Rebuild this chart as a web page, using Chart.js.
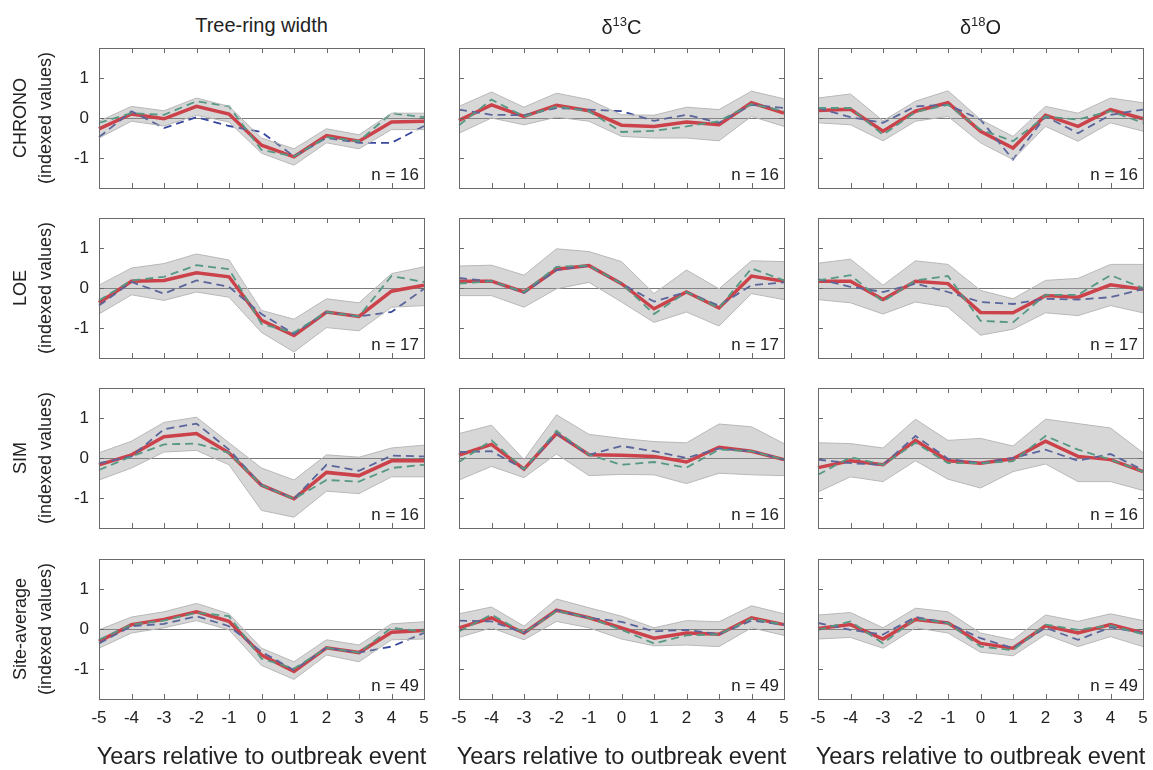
<!DOCTYPE html>
<html>
<head>
<meta charset="utf-8">
<script src="https://cdn.jsdelivr.net/npm/chart.js"></script>
<style>
  body { margin: 0; background: #fff; font-family: "Liberation Sans", Arial, sans-serif; color: #222; }
  #wrap { position: relative; width: 1153px; height: 770px; overflow: hidden; }
  canvas { position: absolute; }
  .ctitle { position: absolute; top: 14px; width: 325px; text-align: center; font-size: 20px; }
  .xtitle { position: absolute; top: 743px; width: 400px; text-align: center; font-size: 23.5px; }
  .ylab { position: absolute; width: 150px; text-align: center; font-size: 18px; transform: rotate(-90deg); transform-origin: center center; line-height: 25px; }
  .nlab { position: absolute; font-size: 17px; text-align: right; width: 80px; }
  sup { font-size: 13px; }
</style>
</head>
<body>
<div id="wrap"></div>
<script>
// years relative to the outbreak event
var years = ['-5', '-4', '-3', '-2', '-1', '0', '1', '2', '3', '4', '5'];
var colTitles = ['Tree-ring width', '&delta;<sup>13</sup>C', '&delta;<sup>18</sup>O'];
var rowNames = ['CHRONO', 'LOE', 'SIM', 'Site-average'];
var rowN = [16, 17, 16, 49];

// CHRONO
var trwChronoMean = [-0.27, 0.1, -0.02, 0.29, 0.1, -0.68, -0.97, -0.44, -0.58, -0.1, -0.08];
var trwChronoUp = [-0.08, 0.29, 0.18, 0.5, 0.29, -0.5, -0.77, -0.27, -0.42, 0.12, 0.12];
var trwChronoLo = [-0.5, -0.08, -0.2, 0.07, -0.1, -0.88, -1.18, -0.62, -0.77, -0.29, -0.29];
var trwChronoG = [-0.12, 0.12, 0.08, 0.42, 0.29, -0.8, -0.96, -0.48, -0.58, 0.12, 0.02];
var trwChronoB = [-0.48, 0.17, -0.25, 0.02, -0.2, -0.35, -0.96, -0.5, -0.62, -0.62, -0.2];

var c13ChronoMean = [-0.06, 0.33, 0.04, 0.32, 0.18, -0.18, -0.21, -0.1, -0.17, 0.38, 0.12];
var c13ChronoUp = [0.29, 0.65, 0.27, 0.62, 0.46, 0.08, 0.07, 0.27, 0.21, 0.67, 0.48];
var c13ChronoLo = [-0.38, 0, -0.17, 0.02, -0.08, -0.46, -0.5, -0.5, -0.57, 0.04, -0.21];
var c13ChronoG = [-0.18, 0.46, 0.04, 0.29, 0.17, -0.35, -0.32, -0.21, -0.08, 0.35, 0.17];
var c13ChronoB = [0.21, 0.08, 0.07, 0.25, 0.21, 0.17, -0.07, 0.08, -0.12, 0.33, 0.25];

var o18ChronoMean = [0.19, 0.22, -0.33, 0.17, 0.38, -0.33, -0.75, 0.07, -0.21, 0.21, -0.02];
var o18ChronoUp = [0.5, 0.6, -0.07, 0.42, 0.68, -0.04, -0.46, 0.29, 0.12, 0.5, 0.38];
var o18ChronoLo = [-0.12, -0.17, -0.57, -0.08, 0.04, -0.62, -1.04, -0.21, -0.58, -0.12, -0.33];
var o18ChronoG = [0.25, 0.25, -0.42, 0.15, 0.33, -0.29, -0.58, 0.04, -0.04, 0.17, -0.12];
var o18ChronoB = [0.25, 0.02, -0.12, 0.29, 0.33, -0.04, -1.04, 0.04, -0.38, 0.08, 0.21];

// LOE
var trwLoeMean = [-0.37, 0.17, 0.19, 0.38, 0.28, -0.81, -1.19, -0.6, -0.71, -0.08, 0.07];
var trwLoeUp = [0.07, 0.5, 0.61, 0.85, 0.7, -0.56, -0.78, -0.27, -0.37, 0.36, 0.53];
var trwLoeLo = [-0.65, -0.17, -0.31, -0.1, -0.23, -1.11, -1.6, -0.99, -1.07, -0.48, -0.44];
var trwLoeG = [-0.31, 0.19, 0.28, 0.57, 0.47, -0.9, -1.11, -0.6, -0.71, 0.3, 0.15];
var trwLoeB = [-0.44, 0.15, -0.14, 0.19, 0.03, -0.65, -1.15, -0.6, -0.71, -0.6, -0.02];

var c13LoeMean = [0.17, 0.17, -0.1, 0.47, 0.56, 0.11, -0.52, -0.1, -0.5, 0.3, 0.17];
var c13LoeUp = [0.55, 0.57, 0.32, 0.98, 0.91, 0.66, -0.14, 0.45, -0.02, 0.68, 0.66];
var c13LoeLo = [-0.19, -0.19, -0.48, -0.02, 0.14, -0.35, -0.86, -0.6, -0.95, -0.14, -0.29];
var c13LoeG = [0.11, 0.17, -0.1, 0.53, 0.56, 0.11, -0.65, -0.1, -0.5, 0.49, 0.19];
var c13LoeB = [0.25, 0.17, -0.12, 0.45, 0.56, 0.11, -0.34, -0.1, -0.44, 0.07, 0.14];

var o18LoeMean = [0.17, 0.17, -0.29, 0.17, 0.11, -0.61, -0.62, -0.19, -0.23, 0.08, -0.03];
var o18LoeUp = [0.62, 0.72, 0.07, 0.68, 0.59, -0.06, -0.27, 0.19, 0.24, 0.59, 0.59];
var o18LoeLo = [-0.29, -0.37, -0.65, -0.35, -0.48, -1.18, -1.03, -0.62, -0.69, -0.44, -0.62];
var o18LoeG = [0.19, 0.32, -0.34, 0.19, 0.3, -0.82, -0.86, -0.17, -0.17, 0.32, 0];
var o18LoeB = [0.22, 0.03, -0.1, 0.11, -0.1, -0.35, -0.4, -0.27, -0.29, -0.23, -0.03];

// SIM
var trwSimMean = [-0.17, 0.08, 0.53, 0.61, 0.13, -0.68, -1.02, -0.36, -0.44, -0.07, -0.07];
var trwSimUp = [0.13, 0.42, 0.89, 1.02, 0.38, -0.25, -0.55, 0.08, 0.02, 0.25, 0.32];
var trwSimLo = [-0.55, -0.25, 0.15, 0.19, -0.17, -1.31, -1.48, -0.83, -0.89, -0.47, -0.47];
var trwSimG = [-0.3, 0.04, 0.34, 0.36, 0.13, -0.68, -1.02, -0.55, -0.59, -0.25, -0.17];
var trwSimB = [-0.13, 0.04, 0.72, 0.86, 0.21, -0.68, -1.02, -0.17, -0.32, 0.06, 0.04];

var c13SimMean = [0.07, 0.34, -0.28, 0.61, 0.08, 0.07, 0.04, -0.1, 0.27, 0.17, -0.04];
var c13SimUp = [0.61, 0.82, -0.04, 1.08, 0.59, 0.49, 0.41, 0.38, 0.85, 0.78, 0.36];
var c13SimLo = [-0.55, -0.21, -0.49, 0.1, -0.44, -0.41, -0.42, -0.64, -0.38, -0.42, -0.44];
var c13SimG = [-0.1, 0.44, -0.28, 0.68, 0.08, -0.17, -0.1, -0.24, 0.21, 0.17, -0.04];
var c13SimB = [0.15, 0.17, -0.28, 0.61, 0.08, 0.3, 0.17, 0, 0.24, 0.17, -0.04];

var o18SimMean = [-0.24, -0.07, -0.17, 0.44, -0.07, -0.13, -0.02, 0.42, 0.04, -0.04, -0.34];
var o18SimUp = [0.38, 0.36, 0.25, 0.97, 0.44, 0.49, 0.3, 0.97, 0.86, 0.75, 0.13];
var o18SimLo = [-0.85, -0.47, -0.59, -0.07, -0.53, -0.75, -0.34, -0.15, -0.59, -0.59, -0.81];
var o18SimG = [-0.42, 0.02, -0.17, 0.38, -0.13, -0.13, -0.08, 0.55, 0.21, -0.04, -0.34];
var o18SimB = [-0.04, -0.13, -0.17, 0.55, -0.02, -0.13, 0, 0.21, -0.07, 0.1, -0.3];

// Site-average
var trwSiteMean = [-0.31, 0.11, 0.24, 0.43, 0.19, -0.65, -1.06, -0.47, -0.59, -0.08, -0.04];
var trwSiteUp = [-0.02, 0.3, 0.43, 0.64, 0.38, -0.48, -0.82, -0.27, -0.4, 0.13, 0.18];
var trwSiteLo = [-0.48, -0.1, 0.03, 0.21, -0.02, -0.91, -1.26, -0.65, -0.82, -0.27, -0.25];
var trwSiteG = [-0.27, 0.11, 0.21, 0.41, 0.32, -0.74, -0.99, -0.47, -0.59, 0.03, -0.06];
var trwSiteB = [-0.36, 0.07, 0.13, 0.32, 0.07, -0.57, -1.03, -0.47, -0.59, -0.44, -0.1];

var c13SiteMean = [0.03, 0.28, -0.1, 0.47, 0.28, 0.03, -0.23, -0.1, -0.13, 0.28, 0.11];
var c13SiteUp = [0.38, 0.55, 0.07, 0.75, 0.53, 0.32, 0.03, 0.21, 0.18, 0.58, 0.38];
var c13SiteLo = [-0.21, 0.03, -0.27, 0.19, 0.03, -0.25, -0.42, -0.4, -0.44, 0.03, -0.16];
var c13SiteG = [-0.06, 0.36, -0.1, 0.45, 0.28, -0.02, -0.36, -0.16, -0.13, 0.26, 0.11];
var c13SiteB = [0.21, 0.19, -0.1, 0.47, 0.28, 0.18, -0.06, -0.02, -0.13, 0.21, 0.11];

var o18SiteMean = [0.01, 0.11, -0.25, 0.24, 0.15, -0.36, -0.48, 0.08, -0.1, 0.11, -0.1];
var o18SiteUp = [0.35, 0.41, 0.03, 0.52, 0.43, -0.1, -0.27, 0.35, 0.19, 0.38, 0.21];
var o18SiteLo = [-0.25, -0.21, -0.48, 0.03, -0.1, -0.58, -0.67, -0.14, -0.44, -0.19, -0.44];
var o18SiteG = [-0.02, 0.19, -0.36, 0.26, 0.15, -0.44, -0.53, 0.11, -0.02, 0.09, -0.13];
var o18SiteB = [0.15, -0.02, -0.14, 0.3, 0.15, -0.23, -0.48, 0.03, -0.27, 0.04, -0.1];

var panels = [
  [[trwChronoMean, trwChronoUp, trwChronoLo, trwChronoG, trwChronoB],
   [c13ChronoMean, c13ChronoUp, c13ChronoLo, c13ChronoG, c13ChronoB],
   [o18ChronoMean, o18ChronoUp, o18ChronoLo, o18ChronoG, o18ChronoB]],
  [[trwLoeMean, trwLoeUp, trwLoeLo, trwLoeG, trwLoeB],
   [c13LoeMean, c13LoeUp, c13LoeLo, c13LoeG, c13LoeB],
   [o18LoeMean, o18LoeUp, o18LoeLo, o18LoeG, o18LoeB]],
  [[trwSimMean, trwSimUp, trwSimLo, trwSimG, trwSimB],
   [c13SimMean, c13SimUp, c13SimLo, c13SimG, c13SimB],
   [o18SimMean, o18SimUp, o18SimLo, o18SimG, o18SimB]],
  [[trwSiteMean, trwSiteUp, trwSiteLo, trwSiteG, trwSiteB],
   [c13SiteMean, c13SiteUp, c13SiteLo, c13SiteG, c13SiteB],
   [o18SiteMean, o18SiteUp, o18SiteLo, o18SiteG, o18SiteB]]
];

var colLeft = [99, 459, 818];
var rowTop = [48, 218, 388, 559];
var plotW = 325, plotH = 140;
var padL = 45, padT = 5, padR = 15, padB = 35;

// frame and inward ticks, matlab style
var framePlugin = {
  id: 'frame',
  afterDraw: function(chart) {
    var ctx = chart.ctx, a = chart.chartArea;
    var xs = chart.scales.x, ys = chart.scales.y;
    ctx.save();
    ctx.strokeStyle = '#6a6a6a';
    ctx.lineWidth = 1;
    ctx.beginPath();
    for (var i = 0; i < years.length; i++) {
      var px = Math.round(xs.getPixelForValue(i)) + 0.5;
      ctx.moveTo(px, a.bottom); ctx.lineTo(px, a.bottom - 5);
      ctx.moveTo(px, a.top); ctx.lineTo(px, a.top + 5);
    }
    [-1, 0, 1].forEach(function(v) {
      var py = Math.round(ys.getPixelForValue(v)) + 0.5;
      ctx.moveTo(a.left, py); ctx.lineTo(a.left + 5, py);
      ctx.moveTo(a.right, py); ctx.lineTo(a.right - 5, py);
    });
    ctx.stroke();
    ctx.strokeRect(Math.round(a.left) + 0.5, Math.round(a.top) + 0.5, Math.round(a.right - a.left), Math.round(a.bottom - a.top));
    ctx.restore();
  }
};

var wrap = document.getElementById('wrap');
var tickFont = { family: 'Liberation Sans', size: 17 };

for (var r = 0; r < 4; r++) {
  for (var c = 0; c < 3; c++) {
    var d = panels[r][c];
    var cv = document.createElement('canvas');
    cv.width = plotW + padL + padR;
    cv.height = plotH + padT + padB;
    cv.style.left = (colLeft[c] - padL) + 'px';
    cv.style.top = (rowTop[r] - padT) + 'px';
    wrap.appendChild(cv);

    new Chart(cv, {
      type: 'line',
      data: {
        labels: years,
        datasets: [
          { data: d[1], borderColor: '#b8b8b8', borderWidth: 1, fill: false },
          { data: d[2], borderColor: '#b8b8b8', borderWidth: 1, fill: '-1', backgroundColor: 'rgba(150,150,150,0.38)' },
          { data: d[3], borderColor: '#2f9a78', borderWidth: 1.8, borderDash: [8, 5], fill: false },
          { data: d[4], borderColor: '#37479e', borderWidth: 1.8, borderDash: [8, 5], fill: false },
          { data: d[0], borderColor: '#ec0f1c', borderWidth: 3.5, fill: false }
        ]
      },
      options: {
        responsive: false,
        animation: false,
        layout: { padding: { left: 0, top: padT, right: padR, bottom: 0 } },
        elements: { point: { radius: 0 }, line: { tension: 0 } },
        plugins: { legend: { display: false }, tooltip: { enabled: false } },
        scales: {
          x: {
            offset: false,
            grid: { display: false, drawTicks: false },
            border: { display: false },
            ticks: { display: r === 3, font: tickFont, color: '#222', padding: 9, maxRotation: 0, autoSkip: false },
            afterFit: function(s) { s.height = padB; s.paddingLeft = 0; s.paddingRight = 0; }
          },
          y: {
            min: -1.75, max: 1.75,
            grid: {
              drawTicks: false,
              color: function(g) { return g.tick && g.tick.value === 0 ? '#7a7a7a' : 'rgba(0,0,0,0)'; }
            },
            border: { display: false },
            ticks: { stepSize: 1, includeBounds: false, display: c === 0, font: tickFont, color: '#222', padding: 10 },
            afterFit: function(s) { s.width = padL; s.paddingTop = 0; s.paddingBottom = 0; }
          }
        }
      },
      plugins: [framePlugin]
    });

    var n = document.createElement('div');
    n.className = 'nlab';
    n.textContent = 'n = ' + rowN[r];
    n.style.left = (colLeft[c] + plotW - 85) + 'px';
    n.style.top = (rowTop[r] + plotH - 23) + 'px';
    wrap.appendChild(n);
  }
}

for (var c = 0; c < 3; c++) {
  var t = document.createElement('div');
  t.className = 'ctitle';
  t.innerHTML = colTitles[c];
  t.style.left = colLeft[c] + 'px';
  wrap.appendChild(t);

  var xt = document.createElement('div');
  xt.className = 'xtitle';
  xt.textContent = 'Years relative to outbreak event';
  xt.style.left = (colLeft[c] + plotW / 2 - 200) + 'px';
  wrap.appendChild(xt);
}

for (var r = 0; r < 4; r++) {
  var yl = document.createElement('div');
  yl.className = 'ylab';
  yl.innerHTML = rowNames[r] + '<br>(indexed values)';
  yl.style.left = (33 - 75) + 'px';
  yl.style.top = (rowTop[r] + plotH / 2 - 25) + 'px';
  wrap.appendChild(yl);
}
</script>
</body>
</html>
